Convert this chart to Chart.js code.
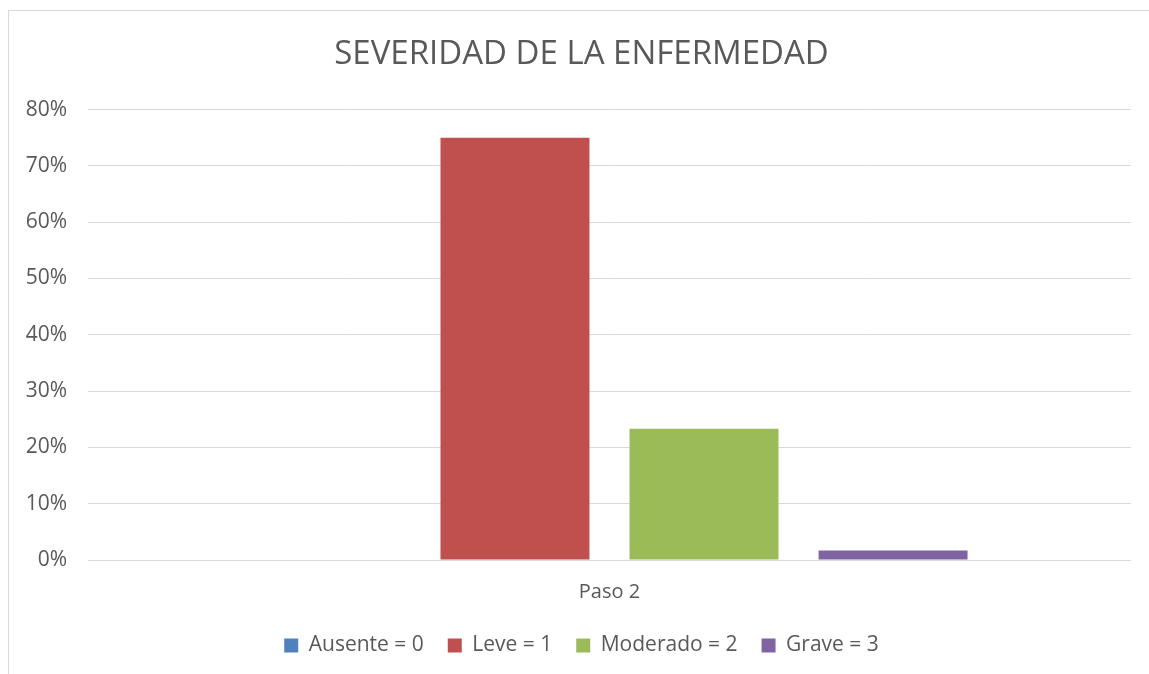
<!DOCTYPE html>
<html>
<head>
<meta charset="utf-8">
<script src="https://cdn.jsdelivr.net/npm/chart.js@4"></script>
<style>
    body { margin: 0; background: #fff; overflow: hidden; }
    #frame {
        position: absolute; left: 8px; top: 10px; width: 1200px; height: 700px;
        border-left: 1px solid #d9d9d9; border-top: 1px solid #d9d9d9;
    }
    #chart { position: absolute; left: 0; top: 0; }
</style>
</head>
<body>
<div id="frame"></div>
<canvas id="chart" width="1149" height="674"></canvas>
<script>
const categories = ['Paso 2'];
const seriesNames = ['Ausente = 0', 'Leve = 1', 'Moderado = 2', 'Grave = 3'];
const seriesValues = [0, 75, 23.3, 1.7];
const seriesColors = ['#4f81bd', '#c0504d', '#9bbb59', '#8064a2'];
const yTicks = [0, 10, 20, 30, 40, 50, 60, 70, 80];

const FONT = "'Open Sans', 'Noto Sans', sans-serif";
const TEXT = '#595959';

const datasets = seriesNames.map((name, i) => ({
    label: name,
    data: [seriesValues[i]],
    backgroundColor: seriesColors[i],
    borderWidth: 0,
    categoryPercentage: 0.725,
    barPercentage: 0.788
}));

const ctx = document.getElementById('chart').getContext('2d');
new Chart(ctx, {
    type: 'bar',
    data: { labels: categories, datasets: datasets },
    options: {
        responsive: false,
        animation: false,
        devicePixelRatio: 1,
        layout: { padding: { left: 14, right: 0, top: 0, bottom: 8 } },
        scales: {
            x: {
                grid: { display: false, drawTicks: false },
                border: { display: false },
                afterFit: axis => { axis.height -= 13; },
                ticks: { color: TEXT, font: { family: FONT, size: 20 }, padding: 20 }
            },
            y: {
                min: 0,
                max: 80,
                afterBuildTicks: axis => { axis.ticks = yTicks.map(v => ({ value: v })); },
                afterFit: axis => { axis.width = 74; },
                grid: { color: '#d9d9d9', lineWidth: 1, drawTicks: false },
                border: { display: false },
                ticks: {
                    color: TEXT,
                    font: { family: FONT, size: 21 },
                    padding: 21,
                    callback: v => v + '%'
                }
            },
            // empty right-hand spacer so the plot ends short of the canvas edge
            yRight: {
                position: 'right',
                min: 0,
                max: 80,
                afterFit: axis => { axis.width = 18; },
                grid: { display: false, drawTicks: false },
                border: { display: false },
                ticks: { display: false }
            }
        },
        plugins: {
            title: {
                display: true,
                text: 'SEVERIDAD DE LA ENFERMEDAD',
                color: TEXT,
                font: { family: FONT, size: 33, weight: 'normal' },
                padding: { top: 35, bottom: 35 }
            },
            legend: {
                position: 'bottom',
                labels: {
                    color: TEXT,
                    font: { family: FONT, size: 21 },
                    boxWidth: 14,
                    boxHeight: 14,
                    padding: 24
                }
            },
            tooltip: { enabled: false }
        }
    }
});
</script>
</body>
</html>
